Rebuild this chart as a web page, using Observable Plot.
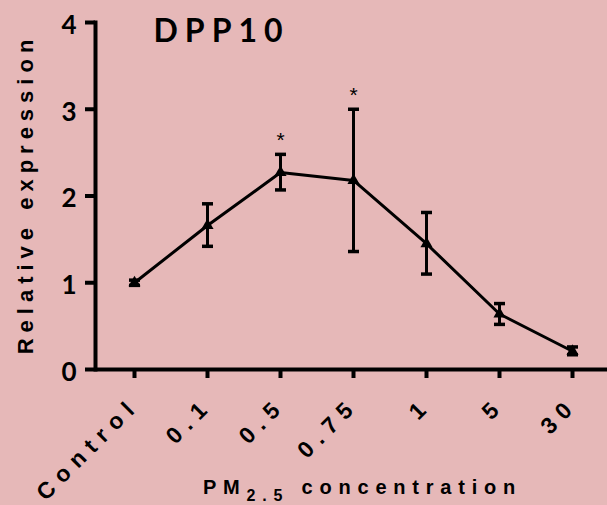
<!DOCTYPE html>
<html><head><meta charset="utf-8">
<script src="https://cdn.jsdelivr.net/npm/d3@7"></script>
<script src="https://cdn.jsdelivr.net/npm/@observablehq/plot@0.6"></script>
<style>
html,body{margin:0;padding:0;background:#e6b8b8;overflow:hidden;}
</style></head><body><div id="chart"></div>
<script>
const categories = ["Control","0.1","0.5","0.75","1","5","30"];
const means = [1.00,1.66,2.27,2.18,1.45,0.64,0.21];
const lower = [0.97,1.42,2.07,1.36,1.10,0.52,0.17];
const upper = [1.03,1.91,2.48,3.00,1.81,0.76,0.26];
const significant = ["0.5","0.75"];
const yTicks = [0,1,2,3,4];
const title = "DPP10";
const yLabel = "Relative expression";
const xLabelMain = "PM";
const xLabelSub = "2.5";
const xLabelRest = " concentration";

const data = categories.map((c,i)=>({c, m:means[i], lo:lower[i], hi:upper[i]}));
const stars = data.filter(d=>significant.includes(d.c));
const cap = {draw(ctx){ ctx.moveTo(-5.5,0); ctx.lineTo(5.5,0); }};
const sans = "'Liberation Sans', Arial, sans-serif";

const plot = Plot.plot({
  width:607, height:505, marginLeft:95, marginRight:0, marginTop:22, marginBottom:136,
  style:{background:"#e6b8b8", color:"black", overflow:"visible"},
  x:{type:"point", domain:categories, padding:0.49, insetRight:-3},
  y:{domain:[0,4]},
  marks:[
    Plot.axisY({ticks:yTicks, tickFormat:d3.format("d"), tickSize:10, tickPadding:9, strokeWidth:4, fontSize:26, fontWeight:"bold", fontFamily:"Lato", label:null}),
    Plot.axisX({tickSize:9, tickPadding:15, strokeWidth:4, tickRotate:-45, fontSize:23, fontWeight:"bold", fontFamily:sans, label:null}),
    Plot.frame({anchor:"left", strokeWidth:4}),
    Plot.ruleY([0], {strokeWidth:4}),
    Plot.ruleX(data, {x:"c", y1:"lo", y2:"hi", strokeWidth:3}),
    Plot.dot(data, {x:"c", y:"lo", symbol:cap, stroke:"black", strokeWidth:3.5}),
    Plot.dot(data, {x:"c", y:"hi", symbol:cap, stroke:"black", strokeWidth:3.5}),
    Plot.line(data, {x:"c", y:"m", strokeWidth:3}),
    Plot.dot(data, {x:"c", y:"m", symbol:"triangle", fill:"black", r:4.5}),
    Plot.text(stars, {x:"c", y:"hi", text:()=>"*", dy:-14, fontSize:21, fontFamily:sans}),
    Plot.text([title], {frameAnchor:"top-left", dx:58, dy:-3, textAnchor:"start", fontSize:32, fontWeight:"bold", fontFamily:"Lato"}),
    Plot.text([yLabel], {frameAnchor:"left", rotate:-90, dx:-70, dy:-2, textAnchor:"middle", fontSize:22, fontWeight:"bold", fontFamily:sans}),
    Plot.text([xLabelMain + xLabelSub + xLabelRest], {frameAnchor:"bottom", dx:11, dy:124, textAnchor:"middle", fontSize:20, fontWeight:"bold", fontFamily:sans})
  ]
});
document.getElementById("chart").appendChild(plot);
const svg = d3.select(plot);
const byText = s => svg.selectAll("text").filter(function(){ return this.textContent === s; });
const shift = (sel, dx, dy) => sel.each(function(){
  const t = this.getAttribute("transform") || "";
  this.setAttribute("transform", `translate(${dx},${dy}) ${t}`);
});
shift(svg.selectAll('g[aria-label="x-axis tick label"]'), 1, 8);
shift(svg.selectAll('g[aria-label="y-axis tick label"]'), 0, 3);
svg.selectAll('g[aria-label="x-axis tick label"] text').style("letter-spacing","7.5px");
byText(title).style("letter-spacing","7px");
byText(yLabel).style("letter-spacing","6px");
byText(xLabelMain + xLabelSub + xLabelRest).style("letter-spacing","6.8px").each(function(){
  const t = d3.select(this);
  t.text(null);
  t.append("tspan").text(xLabelMain);
  t.append("tspan").style("font-size","16px").attr("dy",7).text(xLabelSub);
  t.append("tspan").attr("dy",-7).text(xLabelRest);
});
</script></body></html>
